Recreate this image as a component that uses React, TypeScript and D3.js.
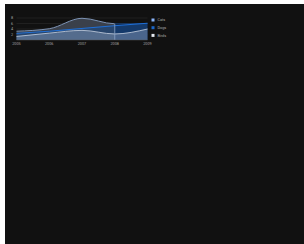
import React from "react";
import * as d3 from "d3";

const years = [2005, 2006, 2007, 2008, 2009];
const cats = [3.2, 4.1, 7.9, 5.9, 6.0];
const dogs = [2.4, 3.2, 4.2, 5.2, 6.1];
const birds = [1.3, 2.5, 3.5, 2.2, 4.0];
const yTicks = [2, 4, 6, 8];
const seriesNames = ["Cats", "Dogs", "Birds"];
const legendColors = ["#8ab4f8", "#1a66c9", "#e6e9ef"];

export default function App() {
  const W = 304, H = 244;
  const x = d3.scaleLinear().domain([2005, 2009]).range([16.5, 147.5]);
  const y = d3.scaleLinear().domain([0, 8]).range([40, 18]);
  const curve = d3.curveMonotoneX;
  const area = (vals: number[]) =>
    d3.area<number>().x((_, i) => x(years[i])).y0(y(0)).y1((d) => y(d)).curve(curve)(vals) || "";
  const line = (vals: number[]) =>
    d3.line<number>().x((_, i) => x(years[i])).y((d) => y(d)).curve(curve)(vals) || "";
  const split = x(2008);
  return (
    <svg width={W} height={H} style={{ position: "fixed", left: 0, top: 0 }}>
      <defs>
        <clipPath id="left"><rect x={0} y={0} width={split} height={H} /></clipPath>
        <clipPath id="right"><rect x={split} y={0} width={W - split} height={H} /></clipPath>
      </defs>
      <rect x={5} y={4} width={W - 5} height={H - 4} fill="#111111" />
      {yTicks.map((t) => (
        <g key={t}>
          <line x1={x(2005)} x2={x(2009)} y1={y(t)} y2={y(t)} stroke="#2c2c2c" strokeWidth={0.6} />
          <text x={12} y={y(t) + 1.3} fontSize={3.8} fill="#a0a0a0" textAnchor="middle" fontFamily="Roboto, sans-serif">{t}</text>
        </g>
      ))}
      <path d={area(cats)} fill="#3a404b" clipPath="url(#left)" />
      <path d={area(cats)} fill="#0e2444" clipPath="url(#right)" />
      <path d={area(dogs)} fill="#1a4a8a" fillOpacity={0.55} />
      <path d={area(birds)} fill="#7f92ad" fillOpacity={0.5} />
      <path d={line(cats)} fill="none" stroke="#7d93b4" strokeWidth={1} clipPath="url(#left)" />
      <path d={line(cats)} fill="none" stroke="#173a6a" strokeWidth={1} clipPath="url(#right)" />
      <path d={line(dogs)} fill="none" stroke="#1f6fd6" strokeWidth={1} />
      <path d={line(birds)} fill="none" stroke="#c9d3e2" strokeWidth={0.8} />
      <line x1={split} x2={split} y1={y(cats[3])} y2={y(0)} stroke="#8da6c8" strokeWidth={0.8} />
      <line x1={x(2005)} x2={x(2009)} y1={y(0)} y2={y(0)} stroke="#555" strokeWidth={0.5} />
      {years.map((yr) => (
        <text key={yr} x={x(yr)} y={44.8} fontSize={3.8} fill="#a0a0a0" textAnchor="middle" fontFamily="Roboto, sans-serif">{yr}</text>
      ))}
      {seriesNames.map((n, i) => (
        <g key={n}>
          <rect x={151.5} y={18.5 + i * 7.7} width={3} height={3} fill={legendColors[i]} />
          <text x={157.5} y={21.3 + i * 7.7} fontSize={3.8} fill="#a8a8a8" fontFamily="Roboto, sans-serif">{n}</text>
        </g>
      ))}
    </svg>
  );
}
